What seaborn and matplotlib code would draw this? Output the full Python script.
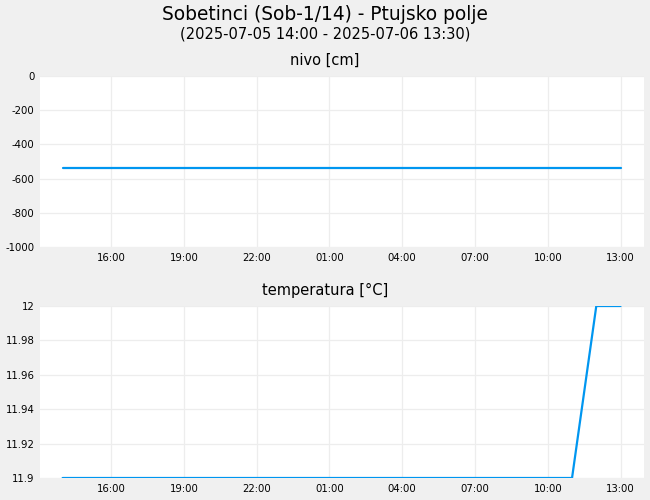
import matplotlib
matplotlib.use("Agg")
import matplotlib.pyplot as plt
import matplotlib.dates as mdates
import matplotlib.ticker as mticker
import seaborn as sns
import pandas as pd

times = ["2025-07-05 14:00", "2025-07-05 15:00", "2025-07-05 16:00", "2025-07-05 17:00",
         "2025-07-05 18:00", "2025-07-05 19:00", "2025-07-05 20:00", "2025-07-05 21:00",
         "2025-07-05 22:00", "2025-07-05 23:00", "2025-07-06 00:00", "2025-07-06 01:00",
         "2025-07-06 02:00", "2025-07-06 03:00", "2025-07-06 04:00", "2025-07-06 05:00",
         "2025-07-06 06:00", "2025-07-06 07:00", "2025-07-06 08:00", "2025-07-06 09:00",
         "2025-07-06 10:00", "2025-07-06 11:00", "2025-07-06 12:00", "2025-07-06 13:00"]
nivo = [-540, -540, -540, -540, -540, -540, -540, -540, -540, -540, -540, -540,
        -540, -540, -540, -540, -540, -540, -540, -540, -540, -540, -540, -540]
temperatura = [11.9, 11.9, 11.9, 11.9, 11.9, 11.9, 11.9, 11.9, 11.9, 11.9, 11.9, 11.9,
               11.9, 11.9, 11.9, 11.9, 11.9, 11.9, 11.9, 11.9, 11.9, 11.9, 12.0, 12.0]
tick_times = ["2025-07-05 16:00", "2025-07-05 19:00", "2025-07-05 22:00", "2025-07-06 01:00",
              "2025-07-06 04:00", "2025-07-06 07:00", "2025-07-06 10:00", "2025-07-06 13:00"]

title = "Sobetinci (Sob-1/14) - Ptujsko polje"
subtitle = "(2025-07-05 14:00 - 2025-07-06 13:30)"

df = pd.DataFrame({"time": pd.to_datetime(times), "nivo": nivo, "temperatura": temperatura})

sns.set_theme(style="white")
plt.rcParams['font.family'] = ['DejaVu Sans']
plt.rcParams['text.color'] = 'black'

bg = "#f0f0f0"
line_color = "#0096f0"
grid_color = "#ededed"

fig = plt.figure(figsize=(6.5, 5), dpi=100, facecolor=bg)
ax1 = fig.add_axes([40/650, 1-247/500, 604/650, 171/500])
ax2 = fig.add_axes([40/650, 1-478/500, 604/650, 172/500])

xmin = pd.Timestamp("2025-07-05 13:04")
xmax = pd.Timestamp("2025-07-06 13:58")
ticks = pd.to_datetime(tick_times)

for ax, col, ttl, ylim, yticks, ty in [
    (ax1, "nivo", "nivo [cm]", (-1000, 0), [-1000, -800, -600, -400, -200, 0], 60),
    (ax2, "temperatura", "temperatura [°C]", (11.9, 12.0), [11.9, 11.92, 11.94, 11.96, 11.98, 12.0], 290),
]:
    sns.lineplot(data=df, x="time", y=col, ax=ax, color=line_color, linewidth=1.6)
    ax.set_facecolor("white")
    ax.set_xlim(xmin, xmax)
    ax.set_ylim(*ylim)
    ax.set_yticks(yticks)
    ax.yaxis.set_major_formatter(mticker.FuncFormatter(lambda v, p: f"{v:g}"))
    ax.set_xticks(ticks)
    ax.xaxis.set_major_formatter(mdates.DateFormatter("%H:%M"))
    ax.grid(True, color=grid_color, linewidth=0.9)
    for s in ax.spines.values():
        s.set_visible(False)
    ax.tick_params(axis="both", labelsize=7.3, length=0, pad=4, colors="black")
    ax.set_xlabel("")
    ax.set_ylabel("")
    fig.text(0.5, 1 - ty/500, ttl, ha="center", va="center", fontsize=10.5, color="black")

fig.text(0.5, 1-14/500, title, ha="center", va="center", fontsize=13.4, color="black")
fig.text(0.5, 1-34/500, subtitle, ha="center", va="center", fontsize=10.5, color="black")

fig.savefig("out.png", dpi=100, facecolor=bg)
